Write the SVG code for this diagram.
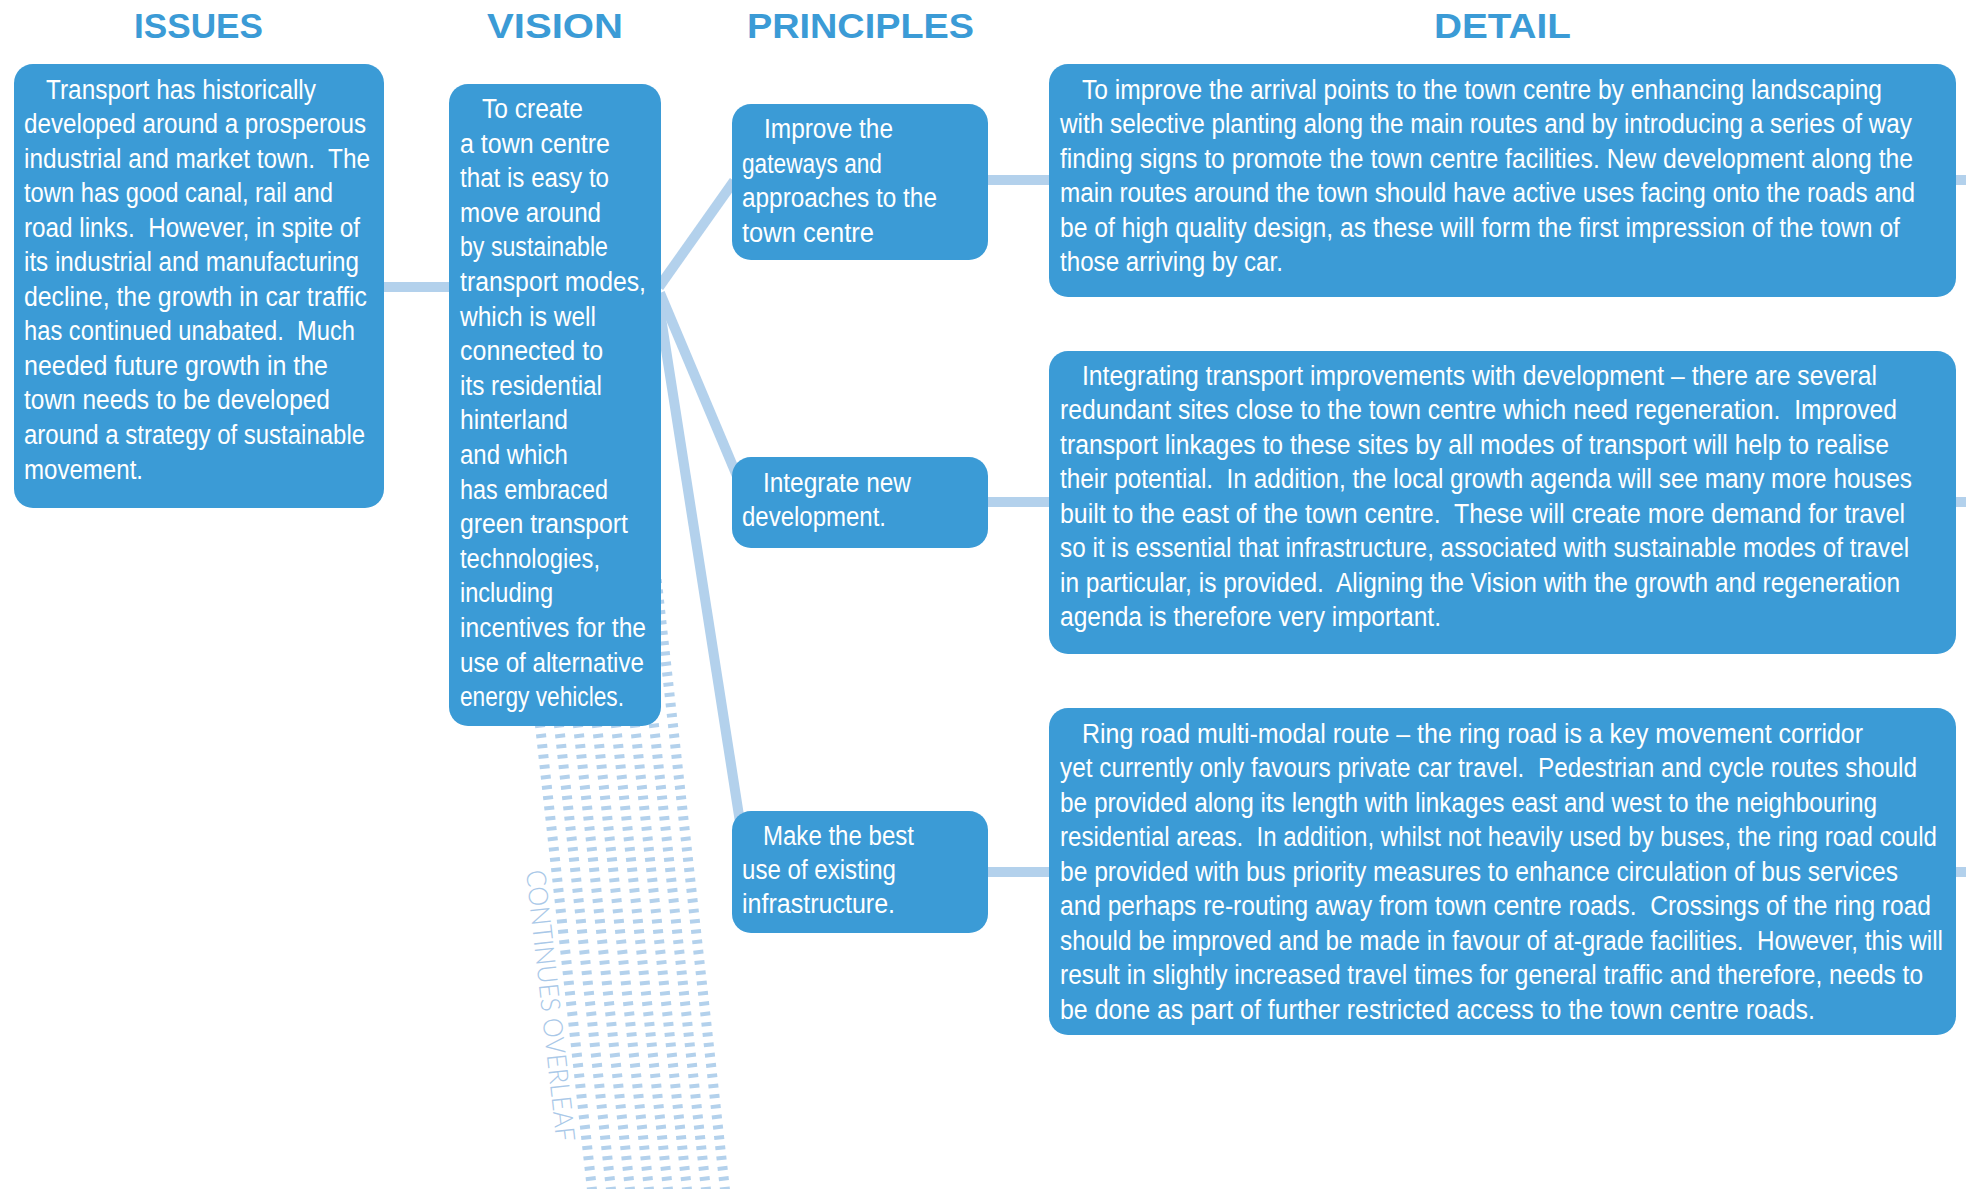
<svg xmlns="http://www.w3.org/2000/svg" width="1966" height="1189" viewBox="0 0 1966 1189">
<style>
.box{fill:#3b9bd6}
.h{font-family:"Liberation Sans",Arial,sans-serif;font-weight:bold;font-size:35px;fill:#3b9bd6}
.t{font-family:"Liberation Sans",Arial,sans-serif;font-size:27px;fill:#ffffff}
.c{fill:none;stroke:#b3d1ec;stroke-width:10}
.stripe{fill:none;stroke:#b3d1ec;stroke-width:10;stroke-dasharray:4 6.36}
.note{font-family:Lato,"Liberation Sans",sans-serif;font-weight:300;font-size:27px;fill:#a9c8e8}
</style>
<rect width="1966" height="1189" fill="#ffffff"/>

<!-- column headings -->
<g id="headings">
<text class="h" x="134" y="38" textLength="129" lengthAdjust="spacingAndGlyphs">ISSUES</text>
<text class="h" x="487" y="38" textLength="136" lengthAdjust="spacingAndGlyphs">VISION</text>
<text class="h" x="747" y="38" textLength="227" lengthAdjust="spacingAndGlyphs">PRINCIPLES</text>
<text class="h" x="1434" y="38" textLength="137" lengthAdjust="spacingAndGlyphs">DETAIL</text>
</g>

<!-- dashed band running on below the vision box -->
<g id="continuation-band">
<path class="stripe" d="M522.5 569.2 L595.3 1219.2"/>
<path class="stripe" d="M541.5 569.2 L614.3 1219.2"/>
<path class="stripe" d="M560.5 569.2 L633.3 1219.2"/>
<path class="stripe" d="M579.5 569.2 L652.3 1219.2"/>
<path class="stripe" d="M598.5 569.2 L671.3 1219.2"/>
<path class="stripe" d="M617.5 569.2 L690.3 1219.2"/>
<path class="stripe" d="M636.5 569.2 L709.3 1219.2"/>
<path class="stripe" d="M655.5 569.2 L728.3 1219.2"/>
<text class="note" transform="translate(526,871) rotate(83.6)" x="0" y="0" textLength="273" lengthAdjust="spacingAndGlyphs">CONTINUES OVERLEAF</text>
</g>

<!-- connectors -->
<g id="connectors">
<path class="c" d="M384 287 H449"/>
<path class="c" d="M659 287 L734 181"/>
<path class="c" d="M660 293 L737 476"/>
<path class="c" d="M659 305 L740 822"/>
<path class="c" d="M988 180 H1049"/>
<path class="c" d="M988 502 H1049"/>
<path class="c" d="M988 872 H1049"/>
<path class="c" d="M1956 180 H1966"/>
<path class="c" d="M1956 502 H1966"/>
<path class="c" d="M1956 872 H1966"/>
</g>

<!-- body copy is set in a narrowed face: each block is squeezed horizontally -->
<g id="issues">
<rect class="box" x="14" y="64" width="370" height="444" rx="19"/>
<g transform="translate(24 0) scale(0.87 1)">
<text class="t" x="25.3" y="99" textLength="310.3" lengthAdjust="spacingAndGlyphs">Transport has historically</text>
<text class="t" x="0" y="133.5" textLength="393.1" lengthAdjust="spacingAndGlyphs">developed around a prosperous</text>
<text class="t" x="0" y="168" textLength="397.7" lengthAdjust="spacingAndGlyphs">industrial and market town.&#160; The</text>
<text class="t" x="0" y="202.5" textLength="355.2" lengthAdjust="spacingAndGlyphs">town has good canal, rail and</text>
<text class="t" x="0" y="237" textLength="386.2" lengthAdjust="spacingAndGlyphs">road links.&#160; However, in spite of</text>
<text class="t" x="0" y="271.5" textLength="385.1" lengthAdjust="spacingAndGlyphs">its industrial and manufacturing</text>
<text class="t" x="0" y="306" textLength="394.3" lengthAdjust="spacingAndGlyphs">decline, the growth in car traffic</text>
<text class="t" x="0" y="340.5" textLength="380.5" lengthAdjust="spacingAndGlyphs">has continued unabated.&#160; Much</text>
<text class="t" x="0" y="375" textLength="349.4" lengthAdjust="spacingAndGlyphs">needed future growth in the</text>
<text class="t" x="0" y="409.5" textLength="351.7" lengthAdjust="spacingAndGlyphs">town needs to be developed</text>
<text class="t" x="0" y="444" textLength="392" lengthAdjust="spacingAndGlyphs">around a strategy of sustainable</text>
<text class="t" x="0" y="479" textLength="136.8" lengthAdjust="spacingAndGlyphs">movement.</text>
</g>
</g>

<g id="vision">
<rect class="box" x="449" y="84" width="212" height="642" rx="19"/>
<g transform="translate(460 0) scale(0.87 1)">
<text class="t" x="25.3" y="118" textLength="116.1" lengthAdjust="spacingAndGlyphs">To create</text>
<text class="t" x="0" y="152.6" textLength="172.4" lengthAdjust="spacingAndGlyphs">a town centre</text>
<text class="t" x="0" y="187.2" textLength="171.3" lengthAdjust="spacingAndGlyphs">that is easy to</text>
<text class="t" x="0" y="221.8" textLength="162.1" lengthAdjust="spacingAndGlyphs">move around</text>
<text class="t" x="0" y="256.4" textLength="170.1" lengthAdjust="spacingAndGlyphs">by sustainable</text>
<text class="t" x="0" y="291" textLength="213.8" lengthAdjust="spacingAndGlyphs">transport modes,</text>
<text class="t" x="0" y="325.6" textLength="156.3" lengthAdjust="spacingAndGlyphs">which is well</text>
<text class="t" x="0" y="360.2" textLength="164.4" lengthAdjust="spacingAndGlyphs">connected to</text>
<text class="t" x="0" y="394.8" textLength="163.2" lengthAdjust="spacingAndGlyphs">its residential</text>
<text class="t" x="0" y="429.4" textLength="124.1" lengthAdjust="spacingAndGlyphs">hinterland</text>
<text class="t" x="0" y="464" textLength="124.1" lengthAdjust="spacingAndGlyphs">and which</text>
<text class="t" x="0" y="498.6" textLength="170.1" lengthAdjust="spacingAndGlyphs">has embraced</text>
<text class="t" x="0" y="533.2" textLength="193.1" lengthAdjust="spacingAndGlyphs">green transport</text>
<text class="t" x="0" y="567.8" textLength="160.9" lengthAdjust="spacingAndGlyphs">technologies,</text>
<text class="t" x="0" y="602.4" textLength="106.9" lengthAdjust="spacingAndGlyphs">including</text>
<text class="t" x="0" y="637" textLength="213.8" lengthAdjust="spacingAndGlyphs">incentives for the</text>
<text class="t" x="0" y="671.6" textLength="211.5" lengthAdjust="spacingAndGlyphs">use of alternative</text>
<text class="t" x="0" y="706.2" textLength="188.5" lengthAdjust="spacingAndGlyphs">energy vehicles.</text>
</g>
</g>

<g id="principle-gateways">
<rect class="box" x="732" y="104" width="256" height="156" rx="19"/>
<g transform="translate(742 0) scale(0.87 1)">
<text class="t" x="25.3" y="138" textLength="148.3" lengthAdjust="spacingAndGlyphs">Improve the</text>
<text class="t" x="0" y="172.6" textLength="160.9" lengthAdjust="spacingAndGlyphs">gateways and</text>
<text class="t" x="0" y="207.2" textLength="224.1" lengthAdjust="spacingAndGlyphs">approaches to the</text>
<text class="t" x="0" y="241.8" textLength="151.7" lengthAdjust="spacingAndGlyphs">town centre</text>
</g>
</g>

<g id="principle-development">
<rect class="box" x="732" y="457" width="256" height="91" rx="19"/>
<g transform="translate(742 0) scale(0.87 1)">
<text class="t" x="24.1" y="492" textLength="170.1" lengthAdjust="spacingAndGlyphs">Integrate new</text>
<text class="t" x="0" y="526" textLength="165.5" lengthAdjust="spacingAndGlyphs">development.</text>
</g>
</g>

<g id="principle-infrastructure">
<rect class="box" x="732" y="811" width="256" height="122" rx="19"/>
<g transform="translate(742 0) scale(0.87 1)">
<text class="t" x="24.1" y="845" textLength="173.6" lengthAdjust="spacingAndGlyphs">Make the best</text>
<text class="t" x="0" y="879" textLength="177" lengthAdjust="spacingAndGlyphs">use of existing</text>
<text class="t" x="0" y="913" textLength="175.9" lengthAdjust="spacingAndGlyphs">infrastructure.</text>
</g>
</g>

<g id="detail-gateways">
<rect class="box" x="1049" y="64" width="907" height="233" rx="19"/>
<g transform="translate(1060 0) scale(0.87 1)">
<text class="t" x="25.3" y="99" textLength="919.5" lengthAdjust="spacingAndGlyphs">To improve the arrival points to the town centre by enhancing landscaping</text>
<text class="t" x="0" y="133.5" textLength="979.3" lengthAdjust="spacingAndGlyphs">with selective planting along the main routes and by introducing a series of way</text>
<text class="t" x="0" y="168" textLength="980.5" lengthAdjust="spacingAndGlyphs">finding signs to promote the town centre facilities. New development along the</text>
<text class="t" x="0" y="202.5" textLength="982.8" lengthAdjust="spacingAndGlyphs">main routes around the town should have active uses facing onto the roads and</text>
<text class="t" x="0" y="237" textLength="965.5" lengthAdjust="spacingAndGlyphs">be of high quality design, as these will form the first impression of the town of</text>
<text class="t" x="0" y="271.5" textLength="256.3" lengthAdjust="spacingAndGlyphs">those arriving by car.</text>
</g>
</g>

<g id="detail-development">
<rect class="box" x="1049" y="351" width="907" height="303" rx="19"/>
<g transform="translate(1060 0) scale(0.87 1)">
<text class="t" x="25.3" y="385" textLength="913.8" lengthAdjust="spacingAndGlyphs">Integrating transport improvements with development – there are several</text>
<text class="t" x="0" y="419.5" textLength="962.1" lengthAdjust="spacingAndGlyphs">redundant sites close to the town centre which need regeneration.&#160; Improved</text>
<text class="t" x="0" y="454" textLength="952.9" lengthAdjust="spacingAndGlyphs">transport linkages to these sites by all modes of transport will help to realise</text>
<text class="t" x="0" y="488.5" textLength="979.3" lengthAdjust="spacingAndGlyphs">their potential.&#160; In addition, the local growth agenda will see many more houses</text>
<text class="t" x="0" y="523" textLength="971.3" lengthAdjust="spacingAndGlyphs">built to the east of the town centre.&#160; These will create more demand for travel</text>
<text class="t" x="0" y="557.5" textLength="975.9" lengthAdjust="spacingAndGlyphs">so it is essential that infrastructure, associated with sustainable modes of travel</text>
<text class="t" x="0" y="592" textLength="965.5" lengthAdjust="spacingAndGlyphs">in particular, is provided.&#160; Aligning the Vision with the growth and regeneration</text>
<text class="t" x="0" y="626.5" textLength="437.9" lengthAdjust="spacingAndGlyphs">agenda is therefore very important.</text>
</g>
</g>

<g id="detail-ring-road">
<rect class="box" x="1049" y="708" width="907" height="327" rx="19"/>
<g transform="translate(1060 0) scale(0.87 1)">
<text class="t" x="25.3" y="743" textLength="897.7" lengthAdjust="spacingAndGlyphs">Ring road multi-modal route – the ring road is a key movement corridor</text>
<text class="t" x="0" y="777.5" textLength="985.1" lengthAdjust="spacingAndGlyphs">yet currently only favours private car travel.&#160; Pedestrian and cycle routes should</text>
<text class="t" x="0" y="812" textLength="939.1" lengthAdjust="spacingAndGlyphs">be provided along its length with linkages east and west to the neighbouring</text>
<text class="t" x="0" y="846.5" textLength="1008" lengthAdjust="spacingAndGlyphs">residential areas.&#160; In addition, whilst not heavily used by buses, the ring road could</text>
<text class="t" x="0" y="881" textLength="963.2" lengthAdjust="spacingAndGlyphs">be provided with bus priority measures to enhance circulation of bus services</text>
<text class="t" x="0" y="915.5" textLength="1001.1" lengthAdjust="spacingAndGlyphs">and perhaps re-routing away from town centre roads.&#160; Crossings of the ring road</text>
<text class="t" x="0" y="950" textLength="1014.9" lengthAdjust="spacingAndGlyphs">should be improved and be made in favour of at-grade facilities.&#160; However, this will</text>
<text class="t" x="0" y="984.5" textLength="992" lengthAdjust="spacingAndGlyphs">result in slightly increased travel times for general traffic and therefore, needs to</text>
<text class="t" x="0" y="1019" textLength="867.8" lengthAdjust="spacingAndGlyphs">be done as part of further restricted access to the town centre roads.</text>
</g>
</g>
</svg>
